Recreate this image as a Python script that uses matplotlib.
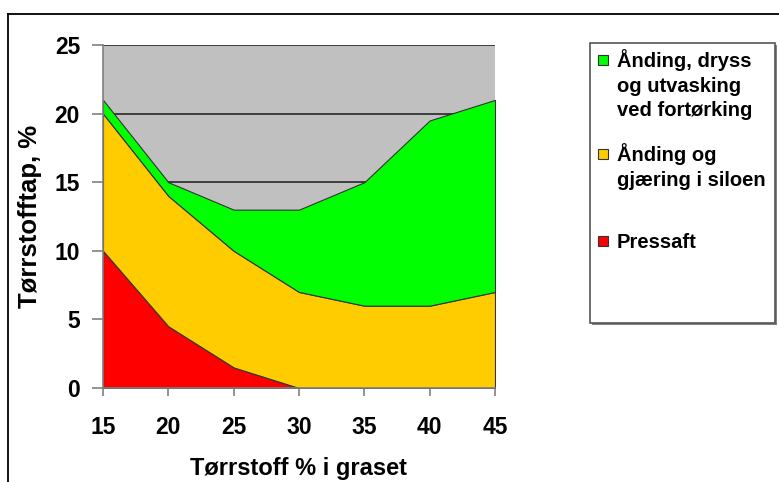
import matplotlib
matplotlib.use("Agg")
import matplotlib.pyplot as plt
from matplotlib.patches import Rectangle
from matplotlib.lines import Line2D

plt.rcParams['font.family'] = ['Liberation Sans', 'DejaVu Sans']
plt.rcParams['font.weight'] = 'bold'

# Data
x_vals = [15, 20, 25, 30, 35, 40, 45]
pressaft = [10, 4.5, 1.5, 0, 0, 0, 0]
garing_silo = [10, 9.5, 8.5, 7, 6, 6, 7]
forturking = [1, 1, 3, 6, 9, 13.5, 14]
series_labels = ["Pressaft", "Ånding og\ngjæring i siloen", "Ånding, dryss\nog utvasking\nved fortørking"]
series_colors = ["#FF0000", "#FFCC00", "#00FF00"]
x_ticks = [15, 20, 25, 30, 35, 40, 45]
y_ticks = [0, 5, 10, 15, 20, 25]
x_title = "Tørrstoff % i graset"
y_title = "Tørrstofftap, %"

W, H = 779, 482
fig = plt.figure(figsize=(W / 100, H / 100), dpi=100)

def fx(px):
    return px / W

def fy(py):
    return 1 - py / H

ax = fig.add_axes([fx(103), fy(388), fx(495) - fx(103), fy(45) - fy(388)])
ax.set_facecolor("#C0C0C0")
ax.stackplot(x_vals, pressaft, garing_silo, forturking, colors=series_colors,
             edgecolor="#333333", linewidth=0.8, zorder=2)
ax.set_axisbelow(True)
ax.yaxis.grid(True, color="#333333", linewidth=1.3)
ax.set_xlim(15, 45)
ax.set_ylim(0, 25)
ax.set_xticks(x_ticks)
ax.set_yticks(y_ticks)
for s in ["top", "right"]:
    ax.spines[s].set_visible(False)
for s in ["left", "bottom"]:
    ax.spines[s].set_color("#808080")
    ax.spines[s].set_linewidth(1.2)
ax.tick_params(axis="y", direction="out", length=8, width=1.2, color="#808080",
               pad=8.5, labelsize=16.5)
ax.tick_params(axis="x", direction="out", length=6, width=1.2, color="#808080",
               pad=14, labelsize=16.5)
for lab in ax.get_xticklabels() + ax.get_yticklabels():
    lab.set_fontweight("bold")
ax.set_xlabel(x_title, fontsize=17, fontweight="bold", labelpad=13)
ax.set_ylabel(y_title, fontsize=18.5, fontweight="bold", labelpad=9)

# Outer frame (top and left visible)
fig.add_artist(Line2D([fx(8), 1.0], [fy(14), fy(14)], color="black", lw=1.3))
fig.add_artist(Line2D([fx(8), fx(8)], [fy(14), 0.0], color="black", lw=1.3))

# Legend box with shadow
fig.add_artist(Rectangle((fx(592), fy(325)), fx(777) - fx(592), fy(45) - fy(325),
                         facecolor="#808080", edgecolor="none", zorder=1))
fig.add_artist(Rectangle((fx(590), fy(323)), fx(775) - fx(590), fy(43) - fy(323),
                         facecolor="white", edgecolor="#555555", lw=1.2, zorder=2))

# Legend entries: (series index, square centre y, first baseline y)
entries = [(2, 60, 67), (1, 154, 161), (0, 241, 248)]
sq = 10
for idx, cy, base in entries:
    fig.add_artist(Rectangle((fx(598), fy(cy + sq / 2)), fx(sq), sq / H,
                             facecolor=series_colors[idx], edgecolor="#333333",
                             lw=0.8, zorder=3))
    for i, line in enumerate(series_labels[idx].split("\n")):
        fig.text(fx(617), fy(base + 24.5 * i), line, fontsize=14.5, fontweight="bold",
                 ha="left", va="baseline", zorder=3)

fig.savefig("out.png", dpi=100)
